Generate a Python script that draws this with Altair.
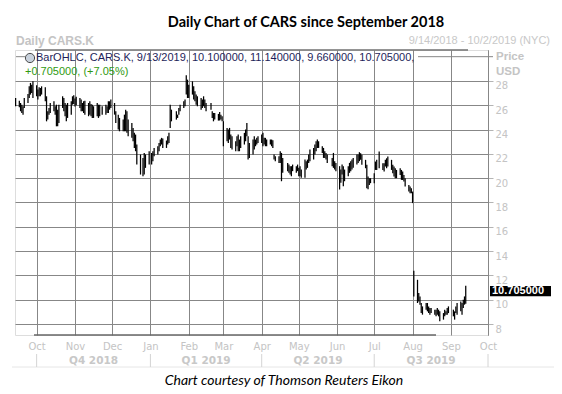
import altair as alt
import pandas as pd

# ---------------- data ----------------
holidays = ["2018-11-22", "2018-12-05", "2018-12-25", "2019-01-01", "2019-01-21",
            "2019-02-18", "2019-04-19", "2019-05-27", "2019-07-04", "2019-09-02"]

sep18_high = [26.60, 26.38, 26.19, 26.05, 25.92, 26.60, 26.93, 27.56, 27.84, 27.70, 27.97]
sep18_low = [25.92, 25.84, 25.51, 25.37, 25.23, 25.78, 26.19, 26.60, 26.88, 27.01, 26.60]

oct18_high = [27.64, 27.29, 27.48, 27.42, 27.56, 27.48, 26.74, 25.51, 25.78, 26.19, 26.33, 25.92,
              26.05, 25.64, 26.05, 26.74, 26.60, 26.19, 26.05, 26.19, 26.33, 26.74, 26.82]
oct18_low = [26.74, 26.47, 26.74, 26.74, 26.88, 26.33, 24.68, 24.82, 25.23, 25.37, 25.51, 25.23,
             24.27, 24.27, 24.55, 25.78, 25.51, 25.10, 24.68, 24.96, 25.23, 26.05, 26.11]

nov18_high = [26.55, 26.70, 26.60, 26.47, 26.19, 26.33, 26.38, 26.19, 26.33, 26.11, 26.05,
              25.92, 26.19, 26.05, 26.05, 25.92, 26.05, 25.92, 26.33, 26.33, 26.47]
nov18_low = [25.90, 26.00, 25.78, 25.51, 25.51, 25.37, 25.23, 25.10, 25.23, 25.10, 24.96,
             24.96, 25.10, 24.96, 25.10, 25.23, 25.23, 25.37, 25.37, 25.64, 25.78]

dec18_high = [26.19, 25.51, 25.23, 24.96, 24.82, 25.23, 25.64, 25.51, 24.82, 24.55,
              24.14, 23.73, 23.59, 22.77, 21.95, 21.67, 22.08, 21.95, 22.22]
dec18_low = [25.23, 24.55, 24.00, 23.86, 23.86, 23.86, 23.86, 23.73, 23.45, 23.32,
             23.04, 22.49, 22.22, 21.12, 20.30, 20.16, 20.30, 20.85, 21.12]

jan19_high = [22.08, 22.22, 22.49, 22.63, 22.90, 23.18, 23.32, 23.26, 23.10, 23.45, 23.73,
              26.05, 25.64, 25.51, 25.23, 25.78, 26.05, 26.33, 26.47, 28.47, 28.11]
jan19_low = [21.12, 21.40, 21.81, 21.95, 22.22, 22.63, 22.77, 22.49, 22.49, 22.77, 22.90,
             24.14, 24.68, 24.82, 24.96, 25.23, 25.51, 25.78, 25.92, 26.88, 26.60]

feb19_high = [27.70, 27.97, 27.56, 27.15, 26.88, 26.74, 26.60, 26.47, 26.74, 26.47,
              26.19, 26.19, 25.51, 25.37, 25.37, 25.29, 25.45, 25.23, 25.10]
feb19_low = [26.60, 26.88, 26.47, 26.33, 26.05, 25.92, 25.64, 25.78, 25.92, 25.78,
             25.51, 25.64, 24.96, 24.68, 24.82, 24.74, 24.74, 24.82, 24.68]

mar19_high = [24.68, 24.14, 24.00, 24.14, 23.59, 23.45, 23.04, 23.45, 23.59, 23.18, 23.45,
              23.73, 24.00, 24.55, 23.45, 22.90, 23.18, 23.45, 23.18, 23.32, 23.45]
mar19_low = [22.63, 23.04, 22.90, 23.18, 22.49, 22.36, 22.22, 22.63, 22.22, 22.22, 22.49,
             22.77, 23.04, 23.45, 21.53, 21.67, 21.95, 22.36, 22.63, 22.77, 22.90]

apr19_high = [23.59, 23.73, 23.32, 23.32, 23.18, 23.18, 23.18, 23.12, 21.95, 21.81, 21.81,
              22.22, 22.08, 21.67, 21.26, 21.12, 20.99, 20.99, 21.12, 20.99, 21.12]
apr19_low = [22.90, 22.63, 22.77, 22.63, 22.63, 22.77, 22.63, 22.49, 21.53, 21.40, 21.26,
             21.26, 19.75, 20.44, 20.58, 20.44, 20.30, 20.16, 20.58, 20.44, 20.58]

may19_high = [20.85, 20.99, 20.71, 21.53, 21.40, 21.53, 21.95, 22.36, 22.49, 22.77, 23.04,
              23.18, 23.04, 22.63, 22.49, 22.22, 22.08, 21.95, 21.67, 22.08, 21.40, 21.26]
may19_low = [20.16, 20.16, 20.03, 20.03, 20.71, 20.85, 21.26, 21.40, 21.53, 21.95, 22.22,
             22.49, 22.49, 22.08, 21.67, 21.67, 21.53, 21.26, 20.99, 20.85, 20.71, 20.58]

jun19_high = [20.99, 20.71, 21.12, 20.99, 20.71, 20.99, 21.26, 21.40, 21.53, 21.67,
              21.95, 21.95, 22.14, 22.05, 21.92, 21.51, 21.10, 20.14, 20.00, 20.00]
jun19_low = [19.07, 19.62, 20.30, 19.34, 19.75, 20.16, 20.44, 20.58, 20.71, 20.85,
             21.12, 21.26, 21.40, 21.51, 21.10, 20.82, 19.18, 19.10, 19.45, 19.59]

jul19_high = [20.41, 21.37, 21.51, 22.19, 21.23, 21.23, 21.51, 21.64, 21.78, 21.51, 21.10,
              20.96, 20.82, 20.68, 20.82, 20.68, 20.55, 20.27, 20.00, 19.45, 19.32, 19.18]
jul19_low = [19.59, 20.68, 20.68, 20.82, 20.68, 20.55, 20.96, 20.82, 20.96, 20.68, 20.41,
             20.14, 20.00, 20.00, 20.27, 19.86, 19.86, 19.73, 19.32, 18.90, 18.77, 18.77]

aug19_high = [18.90, 12.38, 11.64, 10.55, 10.27, 9.73, 9.45, 9.73, 9.73, 9.45, 9.32,
              9.32, 9.18, 9.18, 9.32, 9.18, 9.04, 8.90, 9.18, 9.04, 9.32, 9.45]
aug19_low = [17.95, 10.27, 9.73, 9.86, 9.59, 8.90, 8.77, 9.18, 9.04, 8.90, 8.77,
             8.90, 8.77, 8.63, 8.77, 8.63, 8.22, 8.36, 8.63, 8.77, 8.77, 8.90]

sep19_high = [9.18, 9.04, 9.45, 9.73, 9.86, 9.73, 10.00, 10.27, 11.14]
sep19_low = [8.63, 8.36, 8.90, 8.77, 9.04, 8.77, 9.32, 9.59, 9.66]

last_close = 10.705

month_starts = ["2018-10-01", "2018-11-01", "2018-12-01", "2019-01-01", "2019-02-01",
                "2019-03-01", "2019-04-01", "2019-05-01", "2019-06-01", "2019-07-01",
                "2019-08-01", "2019-09-01", "2019-10-01"]
quarter_bounds = ["2018-10-01", "2019-01-01", "2019-04-01", "2019-07-01", "2019-10-01"]
quarter_names = ["Q4 2018", "Q1 2019", "Q2 2019", "Q3 2019"]
y_ticks = [8, 10, 12, 14, 16, 18, 20, 22, 24, 26, 28]

# ---------------- build table ----------------
highs_by_month = [sep18_high, oct18_high, nov18_high, dec18_high, jan19_high, feb19_high,
                  mar19_high, apr19_high, may19_high, jun19_high, jul19_high, aug19_high, sep19_high]
lows_by_month = [sep18_low, oct18_low, nov18_low, dec18_low, jan19_low, feb19_low,
                 mar19_low, apr19_low, may19_low, jun19_low, jul19_low, aug19_low, sep19_low]

days = pd.bdate_range("2018-09-14", "2019-09-13")
days = days[~days.isin(pd.to_datetime(holidays))]
groups = [g for _, g in pd.Series(days).groupby([days.year, days.month])]
rows = []
for g, hs, ls in zip(groups, highs_by_month, lows_by_month):
    assert len(g) == len(hs) == len(ls), (g.iloc[0], len(g), len(hs), len(ls))
    for d, h, l in zip(g, hs, ls):
        rows.append({"date": d.strftime("%Y-%m-%d"), "high": h, "low": l})
ohlc = pd.DataFrame(rows)

qb = pd.to_datetime(quarter_bounds)
quarters = pd.DataFrame({
    "q": quarter_names,
    "mid": [(qb[i] + (qb[i + 1] - qb[i]) / 2).strftime("%Y-%m-%dT%H:%M:%SZ") for i in range(4)],
})
qsep = pd.DataFrame({"d": quarter_bounds})

# ---------------- scales / axes ----------------
W, H = 473, 285
GRID = "#878787"
LIGHT = "#c4c4c4"
FONT = "DejaVu Sans"

def dt(s, hours=0):
    t = pd.Timestamp(s)
    return alt.DateTime(year=t.year, month=t.month, date=t.day, hours=hours, utc=True)

xs = alt.Scale(type="utc", domain=[dt("2018-09-13", 12), dt("2019-10-01")])
ys = alt.Scale(domain=[7.095, 30.55], nice=False, zero=False)

x_axis = alt.Axis(values=[dt(s) for s in month_starts], format="%b", title=None,
                  domain=False, ticks=False, grid=True, gridColor=GRID, gridWidth=1,
                  labelColor=LIGHT, labelFont=FONT, labelFontSize=10, labelPadding=6,
                  labelOverlap=False, labelFlush=False, labelBound=False)
y_axis = alt.Axis(values=y_ticks, orient="right", title=None, grid=True, gridColor=GRID,
                  gridWidth=1, domain=True, domainColor=GRID, ticks=True, tickSize=5,
                  tickColor="#b4b4b4", labelColor=LIGHT, labelFont=FONT, labelFontSize=10,
                  labelPadding=2, labelBaseline="top", labelOverlap=False)

bars = alt.Chart(ohlc).mark_rule(color="black", strokeWidth=1.25).encode(
    x=alt.X("date:T", scale=xs, axis=x_axis),
    y=alt.Y("low:Q", scale=ys, axis=y_axis),
    y2="high:Q",
)

one = pd.DataFrame({"a": [0]})
base = alt.Chart(one)

grid30 = base.mark_rule(color=GRID, strokeWidth=1).encode(
    x=alt.value(403), x2=alt.value(478), y=alt.Y(datum=30, scale=ys, axis=y_axis))
grid30b = base.mark_rule(color=GRID, strokeWidth=1).encode(
    x=alt.value(1), x2=alt.value(10), y=alt.Y(datum=30, scale=ys, axis=y_axis))
top_line = base.mark_rule(color="#707070", strokeWidth=1.3).encode(
    x=alt.value(20), x2=alt.value(453), y=alt.value(0))
bottom_line = base.mark_rule(color="#666666", strokeWidth=1.5).encode(
    x=alt.value(19), x2=alt.value(421), y=alt.value(285))
foot_line = base.mark_rule(color="#e6e6e6", strokeWidth=1).encode(
    x=alt.value(-3), x2=alt.value(547), y=alt.value(317))

q_sep = alt.Chart(qsep).mark_rule(color="#d4d4d4", strokeWidth=1).encode(
    x=alt.X("d:T", scale=xs, axis=x_axis), y=alt.value(304), y2=alt.value(317))
q_text = alt.Chart(quarters).mark_text(font=FONT, fontSize=10.5, fontWeight="bold",
                                       color="#c8c8c8", baseline="middle").encode(
    x=alt.X("mid:T", scale=xs, axis=x_axis), y=alt.value(311), text="q:N")

def label(txt, x, y, **kw):
    return alt.Chart(pd.DataFrame({"t": [txt]})).mark_text(**kw).encode(
        x=alt.value(x), y=alt.value(y), text="t:N")

title = label("Daily Chart of CARS since September 2018", 291, -27, font="Lato",
              fontSize=14.5, fontWeight="bold", color="black", align="center", baseline="middle")
daily = label("Daily CARS.K", 1, -9, font="Liberation Sans", fontSize=12, fontWeight="bold",
              color="#c4c4c4", align="left", baseline="middle")
rng = label("9/14/2018 - 10/2/2019 (NYC)", 535, -9, font="Liberation Sans", fontSize=11,
            color="#c8c8c8", align="right", baseline="middle")
price = label("Price", 481, 7, font="Liberation Sans", fontSize=11.5, fontWeight="bold",
              color="#c4c4c4", align="left", baseline="middle")
usd = label("USD", 481, 22, font="Liberation Sans", fontSize=11.5, fontWeight="bold",
            color="#c4c4c4", align="left", baseline="middle")
legend1 = label("BarOHLC, CARS.K, 9/13/2019, 10.100000, 11.140000, 9.660000, 10.705000,",
                21, 8, font="Liberation Sans", fontSize=11, color="#1e1e5a", align="left",
                baseline="middle")
legend2 = label("+0.705000, (+7.05%)", 10, 22, font="Liberation Sans", fontSize=11,
                color="#2f9a12", align="left", baseline="middle")
icon = base.mark_point(shape="circle", filled=True, fill="#c9d2dd", stroke="#4a4a4a",
                       strokeWidth=1, size=85, opacity=1).encode(x=alt.value(15), y=alt.value(8))
caption = label("Chart courtesy of Thomson Reuters Eikon", 269, 331, font="Lato", fontSize=14,
                fontStyle="italic", color="black", align="center", baseline="middle")

box = base.mark_rect(color="black").encode(
    x=alt.value(475), x2=alt.value(536),
    y=alt.Y(datum=last_close - 0.43, scale=ys, axis=y_axis), y2=alt.Y2(datum=last_close + 0.43))
box_text = alt.Chart(pd.DataFrame({"t": [f"{last_close:.6f}"]})).mark_text(
    font="Liberation Sans", fontSize=11, fontWeight="bold", color="white", align="left",
    baseline="middle").encode(x=alt.value(477), y=alt.Y(datum=last_close, scale=ys, axis=y_axis),
                              text="t:N")

chart = alt.layer(
    bars, foot_line, q_sep, q_text, grid30, grid30b, top_line, bottom_line,
    icon, legend1, legend2, title, daily, rng, price, usd, caption, box, box_text,
).properties(
    width=W, height=H,
    padding={"left": 7, "top": 42, "right": 66, "bottom": 53},
    autosize=alt.AutoSizeParams(type="none"),
).configure_view(stroke=None).configure(background="white")

chart.save("out.html", embed_options={"renderer": "svg", "actions": False})
